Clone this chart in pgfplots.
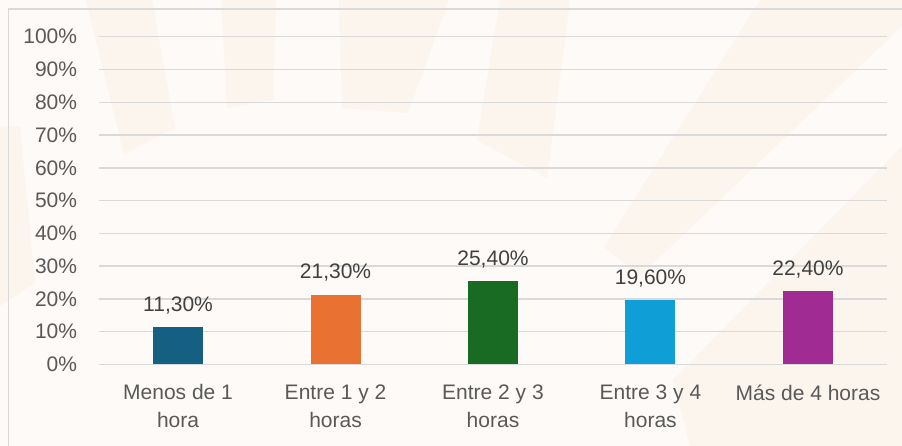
\documentclass[border=0pt]{standalone}
\usepackage{pgfplots}
\pgfplotsset{compat=1.18}
\usepackage{fontspec}
\setmainfont{Liberation Sans}
\definecolor{bg}{HTML}{FDFAF7}
\definecolor{ray}{HTML}{FBF5EE}
\definecolor{gridc}{HTML}{D9D9D9}
\definecolor{txt}{HTML}{595959}
\definecolor{lab}{HTML}{404040}
\definecolor{c1}{HTML}{156082}
\definecolor{c2}{HTML}{E97132}
\definecolor{c3}{HTML}{196B24}
\definecolor{c4}{HTML}{0F9ED5}
\definecolor{c5}{HTML}{A02B93}
\begin{document}
\begin{tikzpicture}
\begin{scope}[x=1pt,y=1pt,shift={(-99.3pt,-81.5pt)}]
\path[use as bounding box] (0,0) rectangle (902,446);
\fill[bg] (0,0) rectangle (902,446);
% faint background rays (decoration)
\fill[ray] (86,446) -- (152,446) -- (175,318) -- (124,292) -- cycle;
\fill[ray] (221,446) -- (276,446) -- (273,346) -- (227,338) -- cycle;
\fill[ray] (339,446) -- (449,446) -- (408,333) -- (342,338) -- cycle;
\fill[ray] (500,446) -- (570,446) -- (547,268) -- (477,306) -- cycle;
\fill[ray] (760,446) -- (902,446) -- (902,420) -- (640,170) -- (604,199) -- cycle;
\fill[ray] (902,300) -- (673,66) -- (690,0) -- (902,0) -- cycle;
\fill[ray] (0,319) -- (20,319) -- (35,163) -- (0,140) -- cycle;
\draw[gridc, line width=1.4pt] (8.5,-5) -- (8.5,437) -- (910,437);
\end{scope}
\begin{axis}[
  scale only axis, width=787.4pt, height=327.8pt,
  xmin=-0.5, xmax=4.5, ymin=0, ymax=100,
  ybar, bar width=50pt,
  axis line style={draw=none},
  major tick length=0pt,
  ytick={0,10,...,100},
  yticklabel={\pgfmathprintnumber{\tick}\%},
  ymajorgrids, grid style={gridc, line width=1.5pt},
  xtick={0,1,2,3,4},
  xticklabels={{Menos de 1\\hora},{Entre 1 y 2\\horas},{Entre 2 y 3\\horas},{Entre 3 y 4\\horas},{Más de 4 horas}},
  xticklabel style={align=center, text=txt, font=\fontsize{21}{28}\selectfont, anchor=north, inner sep=0pt, yshift=-20pt},
  yticklabel style={text=txt, font=\fontsize{21}{24}\selectfont, anchor=east, inner sep=0pt, xshift=-22pt},
  /pgf/number format/assume math mode=true,
  every node near coord/.append style={text=lab, font=\fontsize{21}{24}\selectfont, anchor=south, inner sep=0pt, yshift=13pt},
  clip=false,
]
\addplot[fill=c1, draw=none, bar shift=0pt, nodes near coords={11,30\%}] coordinates {(0,11.3)};
\addplot[fill=c2, draw=none, bar shift=0pt, nodes near coords={21,30\%}] coordinates {(1,21.3)};
\addplot[fill=c3, draw=none, bar shift=0pt, nodes near coords={25,40\%}] coordinates {(2,25.4)};
\addplot[fill=c4, draw=none, bar shift=0pt, nodes near coords={19,60\%}] coordinates {(3,19.6)};
\addplot[fill=c5, draw=none, bar shift=0pt, nodes near coords={22,40\%}] coordinates {(4,22.4)};
\end{axis}
\end{tikzpicture}
\end{document}
